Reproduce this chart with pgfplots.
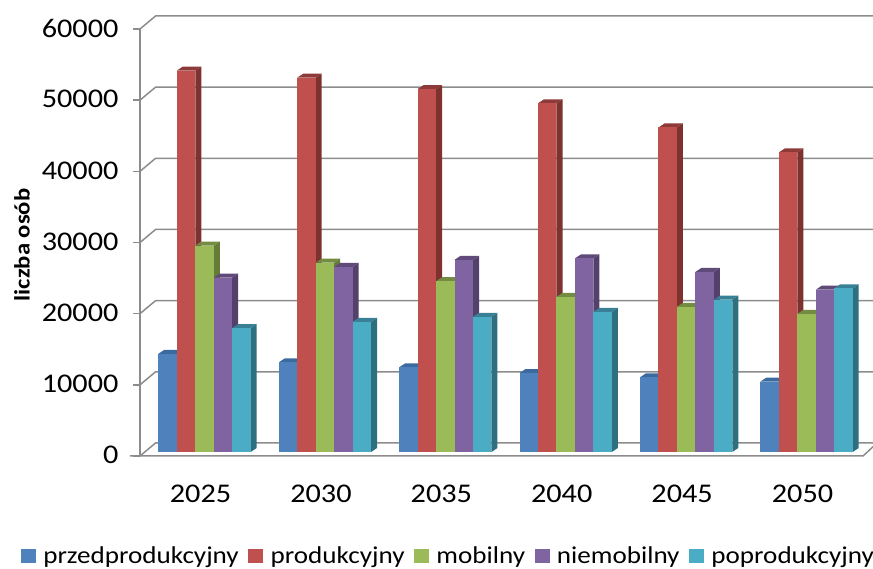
\documentclass[border=0pt]{standalone}
\usepackage{fontspec}
\setmainfont[FakeStretch=1.12]{Carlito}
\usepackage{pgfplots}
\pgfplotsset{compat=1.18}
\definecolor{s0f}{HTML}{4F81BD}\definecolor{s0s}{HTML}{2F5F8E}\definecolor{s0t}{HTML}{3A6A9E}
\definecolor{s1f}{HTML}{C0504D}\definecolor{s1s}{HTML}{7D3230}\definecolor{s1t}{HTML}{8E3A38}
\definecolor{s2f}{HTML}{9BBB59}\definecolor{s2s}{HTML}{657C38}\definecolor{s2t}{HTML}{748C41}
\definecolor{s3f}{HTML}{8064A2}\definecolor{s3s}{HTML}{53406B}\definecolor{s3t}{HTML}{604A7A}
\definecolor{s4f}{HTML}{4BACC6}\definecolor{s4s}{HTML}{2E6F80}\definecolor{s4t}{HTML}{378095}
\definecolor{wallgray}{HTML}{8C8C8C}
\newcommand{\barD}[3]{%
  \edef\xa{\fpeval{#1+(#2-2.5)*0.1533}}%
  \edef\xb{\fpeval{\xa+0.1533}}%
  \edef\xc{\fpeval{\xb+0.05}}%
  \edef\xd{\fpeval{\xa+0.05}}%
  \edef\ya{562}%
  \edef\yb{\fpeval{#3+562}}%
  \edef\yc{1124}%
  \edef\yd{\fpeval{#3+1124}}%
  \edef\tmp{%
    \noexpand\addplot[fill=s#2s,draw=none,forget plot] coordinates {(\xb,\ya)(\xc,\yc)(\xc,\yd)(\xb,\yb)};
    \noexpand\addplot[fill=s#2t,draw=none,forget plot] coordinates {(\xa,\yb)(\xd,\yd)(\xc,\yd)(\xb,\yb)};
    \noexpand\addplot[fill=s#2f,draw=none,forget plot] coordinates {(\xa,\ya)(\xb,\ya)(\xb,\yb)(\xa,\yb)};
  }\tmp
}
\newcommand{\wall}[1]{%
  \edef\yb{\fpeval{#1+1827}}%
  \edef\tmp{\noexpand\addplot[wallgray,line width=1.5pt,forget plot] coordinates {(-0.536,#1)(-0.407,\yb)(5.5523,\yb)};}\tmp
}
\begin{document}
\begin{tikzpicture}
\useasboundingbox (-140pt,-113pt) rectangle (733pt,456pt);
\begin{axis}[
  scale only axis, width=733pt, height=427pt,
  at={(0pt,0pt)}, anchor=south west,
  xmin=-0.536, xmax=5.5523, ymin=0, ymax=60000,
  clip=false,
  axis line style={draw=none},
  xtick={0,1,2,3,4,5},
  xticklabels={2025,2030,2035,2040,2045,2050},
  x tick style={draw=none},
  ytick={0,10000,20000,30000,40000,50000,60000},
  tick align=outside, ytick pos=left, xtick pos=bottom,
  y tick style={wallgray,line width=1.5pt},
  major tick length=7pt,
  scaled y ticks=false,
  /pgf/number format/assume math mode=true,
  /pgf/number format/1000 sep={},
  tick label style={font=\fontsize{27}{30}\selectfont},
  xticklabel style={xshift=-4pt,yshift=-18pt},
  yticklabel style={xshift=-11pt,yshift=1pt},
  ylabel={\bfseries liczba osób},
  every axis y label/.style={at={(rel axis cs:0,0.494)},xshift=-118pt,rotate=90,anchor=center,font=\fontsize{22}{26}\selectfont},
  legend columns=-1,
  legend cell align=left,
  legend style={draw=none,fill=none,font=\fontsize{24.2}{28}\selectfont,
    at={(-118pt,-107pt)},anchor=south west,inner sep=0pt,outer sep=0pt,
    xshift=9pt,yshift=-4pt,
    /tikz/every odd column/.append style={column sep=6pt},
    /tikz/every even column/.append style={column sep=7.5pt}},
]
\wall{0}\wall{10000}\wall{20000}\wall{30000}\wall{40000}\wall{50000}\wall{60000}
\addplot[wallgray,line width=1.5pt,forget plot] coordinates {(-0.536,0)(-0.536,60000)};
\addplot[wallgray,line width=1.5pt,forget plot] coordinates {(-0.62,0)(5.47,0)(5.5523,1300)};

\barD{0}{0}{13800}\barD{0}{1}{53600}\barD{0}{2}{29000}\barD{0}{3}{24500}\barD{0}{4}{17400}
\barD{1}{0}{12600}\barD{1}{1}{52600}\barD{1}{2}{26600}\barD{1}{3}{26000}\barD{1}{4}{18300}
\barD{2}{0}{11900}\barD{2}{1}{51000}\barD{2}{2}{24000}\barD{2}{3}{27000}\barD{2}{4}{19000}
\barD{3}{0}{11100}\barD{3}{1}{49000}\barD{3}{2}{21800}\barD{3}{3}{27200}\barD{3}{4}{19700}
\barD{4}{0}{10500}\barD{4}{1}{45600}\barD{4}{2}{20400}\barD{4}{3}{25300}\barD{4}{4}{21400}
\barD{5}{0}{9900}\barD{5}{1}{42100}\barD{5}{2}{19400}\barD{5}{3}{22800}\barD{5}{4}{23000}

\addlegendimage{legend image code/.code={\fill[s0f] (0pt,-6pt) rectangle (14pt,7pt);}}\addlegendentry{przedprodukcyjny}
\addlegendimage{legend image code/.code={\fill[s1f] (0pt,-6pt) rectangle (14pt,7pt);}}\addlegendentry{produkcyjny}
\addlegendimage{legend image code/.code={\fill[s2f] (0pt,-6pt) rectangle (14pt,7pt);}}\addlegendentry{mobilny}
\addlegendimage{legend image code/.code={\fill[s3f] (0pt,-6pt) rectangle (14pt,7pt);}}\addlegendentry{niemobilny}
\addlegendimage{legend image code/.code={\fill[s4f] (0pt,-6pt) rectangle (14pt,7pt);}}\addlegendentry{poprodukcyjny}
\end{axis}
\end{tikzpicture}
\end{document}
